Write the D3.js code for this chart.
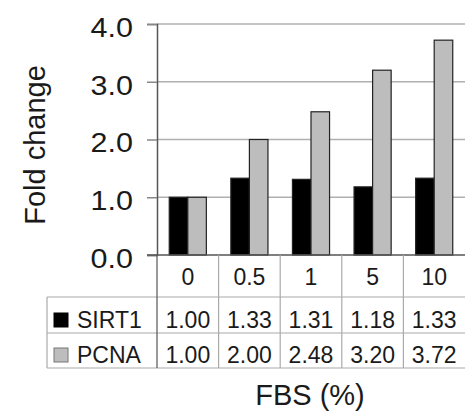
<!DOCTYPE html>
<html>
<head>
<meta charset="utf-8">
<script src="https://cdn.jsdelivr.net/npm/d3@7"></script>
<style>
  body { margin: 0; background: #fff; }
  text { font-family: "Liberation Sans", Arial, sans-serif; fill: #1a1a1a; }
</style>
</head>
<body>
<div id="chart"></div>
<script>
// data
const categories = ["0", "0.5", "1", "5", "10"];
const seriesNames = ["SIRT1", "PCNA"];
const sirt1 = [1.00, 1.33, 1.31, 1.18, 1.33];
const pcna = [1.00, 2.00, 2.48, 3.20, 3.72];
const yTicks = [0, 1, 2, 3, 4];
const colors = {SIRT1: "#000000", PCNA: "#bdbdbd"};

const W = 465, H = 413;
const plot = {left: 157, right: 465, top: 24, bottom: 255};
const tableLeft = 47;
const rowLines = [255, 297, 333, 368];

const svg = d3.select("#chart").append("svg")
  .attr("width", W)
  .attr("height", H);

const x0 = d3.scaleBand()
  .domain(categories)
  .range([plot.left, plot.right])
  .padding(0);

const x1 = d3.scaleBand()
  .domain(seriesNames)
  .range([0, x0.bandwidth()])
  .paddingInner(0)
  .paddingOuter(0.66);

const y = d3.scaleLinear()
  .domain([0, 4])
  .range([plot.bottom, plot.top]);

// gridlines
svg.append("g")
  .selectAll("line")
  .data(yTicks.filter(d => d > 0))
  .join("line")
    .attr("x1", plot.left)
    .attr("x2", plot.right)
    .attr("y1", d => y(d))
    .attr("y2", d => y(d))
    .attr("stroke", "#b0b0b0")
    .attr("stroke-width", 1.5);

// bars
const rows = seriesNames.map((name, i) => ({name, values: i === 0 ? sirt1 : pcna}));
svg.append("g")
  .selectAll("g")
  .data(rows)
  .join("g")
  .selectAll("rect")
  .data(r => r.values.map((v, j) => ({name: r.name, cat: categories[j], value: v})))
  .join("rect")
    .attr("x", d => x0(d.cat) + x1(d.name))
    .attr("y", d => y(d.value))
    .attr("width", x1.bandwidth())
    .attr("height", d => y(0) - y(d.value))
    .attr("fill", d => colors[d.name])
    .attr("stroke", "#222")
    .attr("stroke-width", 1.2);

// y axis
const yAxis = svg.append("g")
  .attr("transform", `translate(${plot.left},0)`)
  .call(d3.axisLeft(y).tickValues(yTicks).tickFormat(d3.format(".1f")).tickSize(10).tickPadding(14));
yAxis.select(".domain").attr("stroke", "#555").attr("stroke-width", 1.5);
yAxis.selectAll(".tick line").attr("stroke", "#888").attr("stroke-width", 1.5);
yAxis.selectAll(".tick text")
  .attr("font-size", 27)
  .attr("dy", "0.46em")
  .attr("fill", "#1a1a1a")
  .style("font-family", "Liberation Sans, Arial, sans-serif")
  .each(function() {
    // reference labels are drawn a bit wider than the plain font
    const w = this.getComputedTextLength();
    d3.select(this).attr("textLength", w * 1.13).attr("lengthAdjust", "spacingAndGlyphs");
  });

// baseline
svg.append("line")
  .attr("x1", plot.left - 10).attr("x2", plot.right)
  .attr("y1", y(0)).attr("y2", y(0))
  .attr("stroke", "#555").attr("stroke-width", 1.5);

// data table
const table = svg.append("g");
table.selectAll("line.h")
  .data(rowLines.slice(1))
  .join("line")
    .attr("class", "h")
    .attr("x1", tableLeft).attr("x2", plot.right)
    .attr("y1", d => d).attr("y2", d => d)
    .attr("stroke", "#aaa").attr("stroke-width", 1.2);

table.append("line")
  .attr("x1", tableLeft).attr("x2", tableLeft)
  .attr("y1", rowLines[1]).attr("y2", rowLines[3])
  .attr("stroke", "#aaa").attr("stroke-width", 1.2);

table.selectAll("line.v")
  .data(categories)
  .join("line")
    .attr("class", "v")
    .attr("x1", d => x0(d)).attr("x2", d => x0(d))
    .attr("y1", rowLines[0]).attr("y2", rowLines[3])
    .attr("stroke", d => d === categories[0] ? "#555" : "#aaa")
    .attr("stroke-width", 1.2);

// header row: categories
table.selectAll("text.cat")
  .data(categories)
  .join("text")
    .attr("class", "cat")
    .attr("x", d => x0(d) + x0.bandwidth() / 2)
    .attr("y", 285)
    .attr("text-anchor", "middle")
    .attr("font-size", 23)
    .text(d => d);

// series rows
const rowBase = [328, 363];
rows.forEach((r, i) => {
  const g = table.append("g");
  g.append("rect")
    .attr("x", 54).attr("y", rowBase[i] - 15)
    .attr("width", 14).attr("height", 14)
    .attr("fill", colors[r.name])
    .attr("stroke", i === 0 ? "#000" : "#777")
    .attr("stroke-width", 1);
  g.append("text")
    .attr("x", 77).attr("y", rowBase[i])
    .attr("font-size", 23)
    .text(r.name);
  g.selectAll("text.val")
    .data(r.values)
    .join("text")
      .attr("class", "val")
      .attr("x", (d, j) => x0(categories[j]) + x0.bandwidth() / 2)
      .attr("y", rowBase[i])
      .attr("text-anchor", "middle")
      .attr("font-size", 23)
      .text(d => d3.format(".2f")(d));
});

// axis titles
svg.append("text")
  .attr("transform", "translate(45,145) rotate(-90)")
  .attr("text-anchor", "middle")
  .attr("font-size", 29)
  .text("Fold change");

svg.append("text")
  .attr("x", 310).attr("y", 405)
  .attr("text-anchor", "middle")
  .attr("font-size", 29)
  .text("FBS (%)");
</script>
</body>
</html>
